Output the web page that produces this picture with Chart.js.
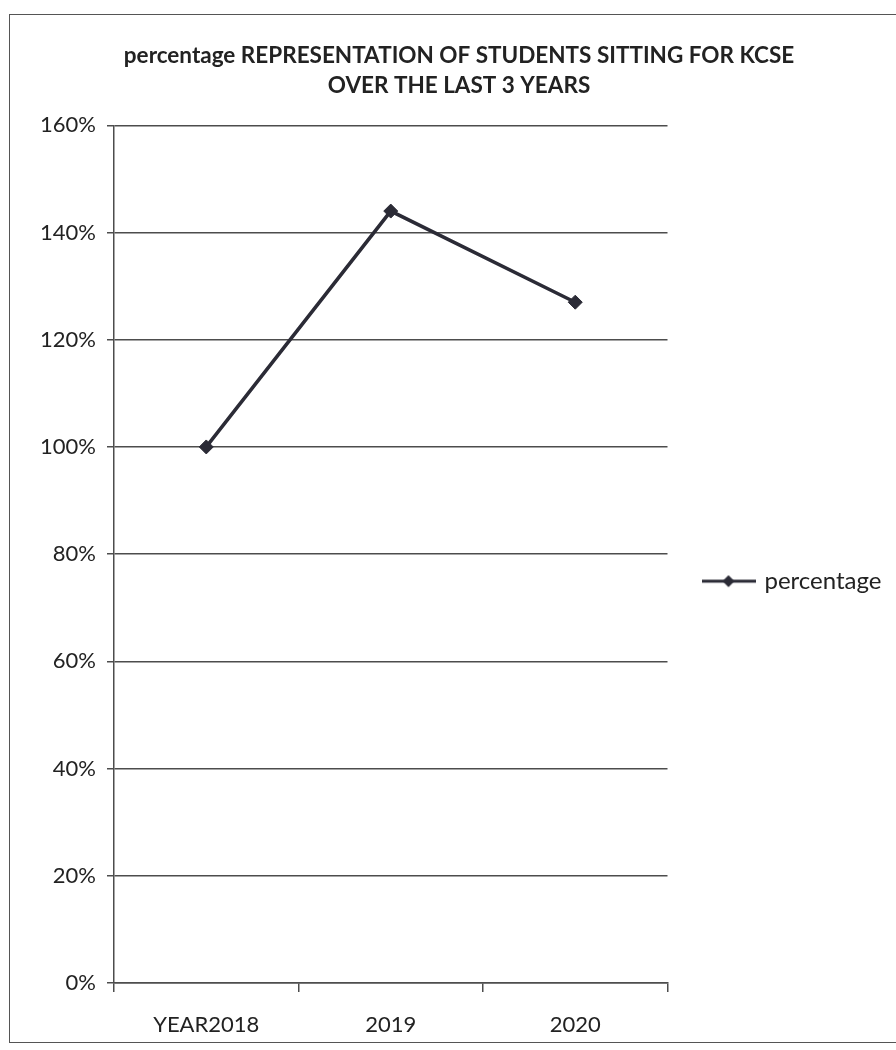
<!DOCTYPE html>
<html>
<head>
<meta charset="utf-8">
<title>KCSE candidates</title>
<script src="https://cdn.jsdelivr.net/npm/chart.js@4.4.1/dist/chart.umd.min.js"></script>
<style>
    html, body { margin: 0; padding: 0; background: #fff; overflow: hidden; }
    #wrap { position: relative; width: 896px; height: 1050px; }
    #frame { position: absolute; left: 9px; top: 14px; width: 900px; height: 1029px; border: 1.5px solid #555; box-sizing: border-box; }
    #grafico { position: absolute; left: 0; top: 0; }
</style>
</head>
<body>
<div id="wrap">
    <div id="frame"></div>
    <canvas id="grafico" width="896" height="1050"></canvas>
</div>
<script>
const years = ["YEAR2018", "2019", "2020"];
const percentage = [100, 144, 127];
const yTicks = [0, 20, 40, 60, 80, 100, 120, 140, 160];
const titleLines = ["percentage REPRESENTATION OF STUDENTS SITTING FOR KCSE", "OVER THE LAST 3 YEARS"];

const lineColor = "#2b2b36";
const gridColor = "#4d4d4d";
const textColor = "#222";

// little line + diamond used as the legend symbol
function legendSymbol() {
    const c = document.createElement("canvas");
    c.width = 54;
    c.height = 16;
    const g = c.getContext("2d");
    g.strokeStyle = lineColor;
    g.lineWidth = 3;
    g.beginPath();
    g.moveTo(0, 8);
    g.lineTo(54, 8);
    g.stroke();
    g.fillStyle = lineColor;
    g.beginPath();
    g.moveTo(27, 2);
    g.lineTo(33, 8);
    g.lineTo(27, 14);
    g.lineTo(21, 8);
    g.closePath();
    g.fill();
    return c;
}

// the legend sits a bit below the middle of the plot and uses the whole right margin
const legendShift = {
    id: "legendShift",
    beforeDraw: function (chart) {
        const legend = chart.legend;
        if (legend) {
            legend.top = chart.chartArea.top + 27;
            legend.bottom = chart.chartArea.bottom + 27;
            legend.left = chart.chartArea.right;
            legend.right = chart.width;
        }
    }
};

document.addEventListener("DOMContentLoaded", function () {
    const ctx = document.getElementById("grafico").getContext("2d");
    const symbol = legendSymbol();

    new Chart(ctx, {
        type: "line",
        data: {
            labels: years,
            datasets: [{
                label: "percentage",
                data: percentage,
                borderColor: lineColor,
                backgroundColor: lineColor,
                borderWidth: 3.5,
                pointStyle: "rectRot",
                pointRadius: 7,
                pointBorderWidth: 1,
                tension: 0,
                fill: false
            }]
        },
        plugins: [legendShift],
        options: {
            responsive: false,
            animation: false,
            layout: {
                padding: { left: 42, right: 20, top: 0, bottom: 0 }
            },
            plugins: {
                title: {
                    display: true,
                    text: titleLines,
                    color: textColor,
                    font: { family: "Lato", size: 22.5, weight: "bold", lineHeight: 1.34 },
                    padding: { top: 41, bottom: 24 }
                },
                legend: {
                    display: true,
                    position: "right",
                    labels: {
                        usePointStyle: true,
                        pointStyleWidth: 48,
                        padding: 37,
                        color: textColor,
                        font: { family: "Lato", size: 24 },
                        generateLabels: function (chart) {
                            return chart.data.datasets.map((ds, i) => ({
                                text: ds.label,
                                pointStyle: symbol,
                                fontColor: textColor,
                                datasetIndex: i,
                                hidden: false,
                                lineWidth: 0
                            }));
                        }
                    }
                },
                tooltip: { enabled: false }
            },
            scales: {
                x: {
                    offset: true,
                    afterFit: function (scale) {
                        scale.height = 67;
                    },
                    grid: {
                        offset: true,
                        drawOnChartArea: false,
                        drawTicks: true,
                        tickLength: 9,
                        color: gridColor,
                        lineWidth: 1.5
                    },
                    border: { display: true, color: gridColor, width: 1.5 },
                    ticks: {
                        color: textColor,
                        padding: 20,
                        font: { family: "Lato", size: 22 }
                    }
                },
                y: {
                    min: 0,
                    max: 160,
                    afterBuildTicks: function (scale) {
                        scale.ticks = yTicks.map(v => ({ value: v }));
                    },
                    afterFit: function (scale) {
                        scale.width = 72;
                    },
                    grid: {
                        color: gridColor,
                        lineWidth: 1.5,
                        drawTicks: true,
                        tickLength: 7
                    },
                    border: { display: true, color: gridColor, width: 1.5 },
                    ticks: {
                        color: textColor,
                        padding: 11,
                        font: { family: "Lato", size: 22 },
                        callback: function (value) {
                            return value + "%";
                        }
                    }
                }
            }
        }
    });
});
</script>
</body>
</html>
